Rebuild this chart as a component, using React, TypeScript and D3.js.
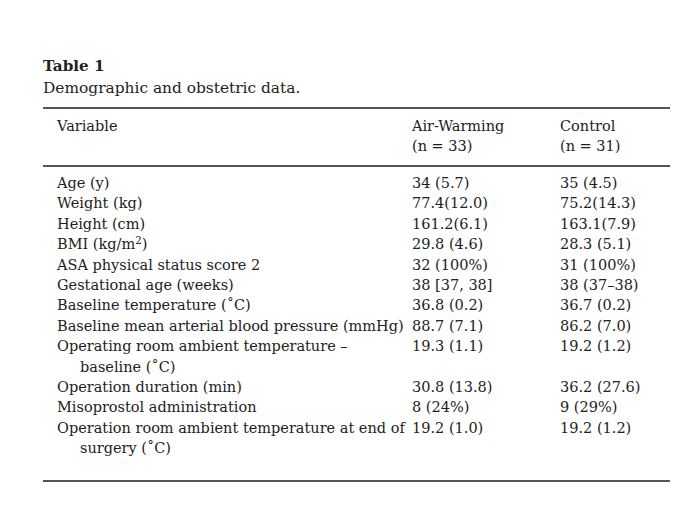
import React from "react";
import * as d3 from "d3";

const title = "Table 1";
const subtitle = "Demographic and obstetric data.";
const headers = ["Variable", "Air-Warming", "Control"];
const subHeaders = ["", "(n = 33)", "(n = 31)"];
const variables: string[][] = [
  ["Age (y)"],
  ["Weight (kg)"],
  ["Height (cm)"],
  ["BMI (kg/m^2)"],
  ["ASA physical status score 2"],
  ["Gestational age (weeks)"],
  ["Baseline temperature (˚C)"],
  ["Baseline mean arterial blood pressure (mmHg)"],
  ["Operating room ambient temperature –", "baseline (˚C)"],
  ["Operation duration (min)"],
  ["Misoprostol administration"],
  ["Operation room ambient temperature at end of", "surgery (˚C)"],
];
const airWarming = [
  "34 (5.7)",
  "77.4(12.0)",
  "161.2(6.1)",
  "29.8 (4.6)",
  "32 (100%)",
  "38 [37, 38]",
  "36.8 (0.2)",
  "88.7 (7.1)",
  "19.3 (1.1)",
  "30.8 (13.8)",
  "8 (24%)",
  "19.2 (1.0)",
];
const control = [
  "35 (4.5)",
  "75.2(14.3)",
  "163.1(7.9)",
  "28.3 (5.1)",
  "31 (100%)",
  "38 (37–38)",
  "36.7 (0.2)",
  "86.2 (7.0)",
  "19.2 (1.2)",
  "36.2 (27.6)",
  "9 (29%)",
  "19.2 (1.2)",
];

const W = 694;
const H = 510;
const FONT = "'DejaVu Serif', serif";
const FS = 14.5;
const TEXT = "#222";
const RULE = "#555";

const left = 43;
const right = 670;
const colX = d3.scaleOrdinal<string, number>().domain(headers).range([57, 412, 560]);
const indent = 23;
const linePitch = 20.4;
const firstBaseline = 188;

function renderLabel(s: string) {
  const i = s.indexOf("^");
  if (i < 0) return s;
  const a = s.slice(0, i);
  const sup = s.slice(i + 1, i + 2);
  const rest = s.slice(i + 2);
  return (
    <>
      {a}
      <tspan dy={-5} fontSize={FS * 0.7}>{sup}</tspan>
      <tspan dy={5}>{rest}</tspan>
    </>
  );
}

export default function App() {
  const baselines: number[] = [];
  let y = firstBaseline;
  variables.forEach((lines) => {
    baselines.push(y);
    y += lines.length * linePitch;
  });
  const bottomRule = 481;

  return (
    <svg
      width={W}
      height={H}
      style={{ position: "absolute", left: 0, top: 0, background: "#fff" }}
      fontFamily={FONT}
      fontSize={FS}
      fill={TEXT}
    >
      <rect width={W} height={H} fill="#fff" />
      <text x={left} y={71} fontWeight="bold" fontSize={15.2}>{title}</text>
      <text x={left} y={93} fontSize={15.4}>{subtitle}</text>
      <line x1={left} x2={right} y1={108} y2={108} stroke={RULE} strokeWidth={1.8} />
      {headers.map((h) => (
        <text key={h} x={colX(h)} y={131}>{h}</text>
      ))}
      {subHeaders.map((h, i) =>
        h ? (
          <text key={i} x={colX(headers[i])} y={151}>{h}</text>
        ) : null
      )}
      <line x1={left} x2={right} y1={166} y2={166} stroke={RULE} strokeWidth={1.8} />
      {variables.map((lines, r) => (
        <g key={r}>
          {lines.map((ln, j) => (
            <text key={j} x={colX(headers[0]) + (j > 0 ? indent : 0)} y={baselines[r] + j * linePitch}>
              {renderLabel(ln)}
            </text>
          ))}
          <text x={colX(headers[1])} y={baselines[r]}>{airWarming[r]}</text>
          <text x={colX(headers[2])} y={baselines[r]}>{control[r]}</text>
        </g>
      ))}
      <line x1={left} x2={right} y1={bottomRule} y2={bottomRule} stroke={RULE} strokeWidth={1.8} />
    </svg>
  );
}
